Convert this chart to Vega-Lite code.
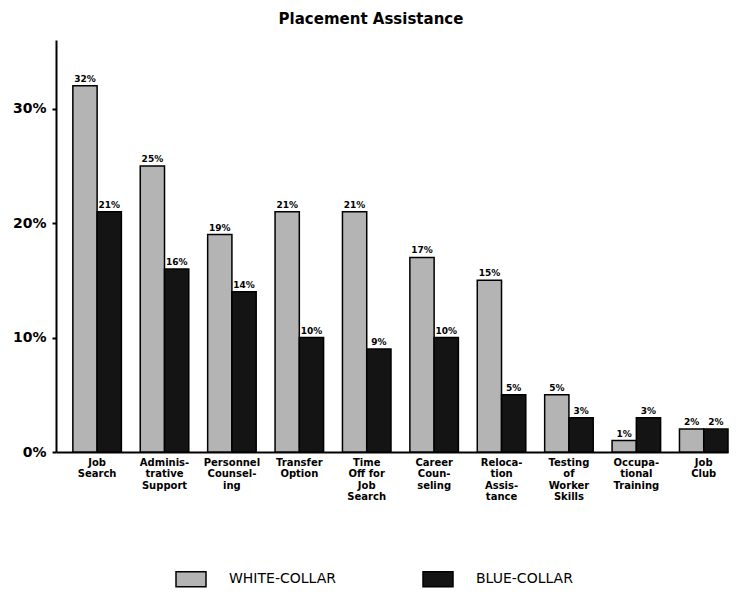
{
  "$schema": "https://vega.github.io/schema/vega-lite/v6.json",
  "width": 672,
  "height": 412,
  "autosize": "none",
  "padding": {"left": 56, "top": 40, "right": 18, "bottom": 148},
  "background": "white",
  "title": {"text": "Placement Assistance", "fontSize": 15, "font": "DejaVu Sans", "fontWeight": "bold", "anchor": "middle", "dx": -21, "offset": 13, "color": "black"},
  "config": {"view": {"stroke": null}},
  "data": {
    "values": [
      {"category": "Job|Search", "collar": "WHITE-COLLAR", "value": 0.32},
      {"category": "Job|Search", "collar": "BLUE-COLLAR", "value": 0.21},
      {"category": "Adminis-|trative|Support", "collar": "WHITE-COLLAR", "value": 0.25},
      {"category": "Adminis-|trative|Support", "collar": "BLUE-COLLAR", "value": 0.16},
      {"category": "Personnel|Counsel-|ing", "collar": "WHITE-COLLAR", "value": 0.19},
      {"category": "Personnel|Counsel-|ing", "collar": "BLUE-COLLAR", "value": 0.14},
      {"category": "Transfer|Option", "collar": "WHITE-COLLAR", "value": 0.21},
      {"category": "Transfer|Option", "collar": "BLUE-COLLAR", "value": 0.10},
      {"category": "Time|Off for|Job|Search", "collar": "WHITE-COLLAR", "value": 0.21},
      {"category": "Time|Off for|Job|Search", "collar": "BLUE-COLLAR", "value": 0.09},
      {"category": "Career|Coun-|seling", "collar": "WHITE-COLLAR", "value": 0.17},
      {"category": "Career|Coun-|seling", "collar": "BLUE-COLLAR", "value": 0.10},
      {"category": "Reloca-|tion|Assis-|tance", "collar": "WHITE-COLLAR", "value": 0.15},
      {"category": "Reloca-|tion|Assis-|tance", "collar": "BLUE-COLLAR", "value": 0.05},
      {"category": "Testing|of|Worker|Skills", "collar": "WHITE-COLLAR", "value": 0.05},
      {"category": "Testing|of|Worker|Skills", "collar": "BLUE-COLLAR", "value": 0.03},
      {"category": "Occupa-|tional|Training", "collar": "WHITE-COLLAR", "value": 0.01},
      {"category": "Occupa-|tional|Training", "collar": "BLUE-COLLAR", "value": 0.03},
      {"category": "Job|Club", "collar": "WHITE-COLLAR", "value": 0.02},
      {"category": "Job|Club", "collar": "BLUE-COLLAR", "value": 0.02}
    ]
  },
  "encoding": {
    "x": {
      "field": "category", "type": "nominal", "sort": null,
      "scale": {"paddingInner": 0.28, "paddingOuter": 0.125, "align": 1},
      "axis": {
        "title": null, "labelAngle": 0, "ticks": false,
        "labelExpr": "split(datum.value, '|')",
        "labelFont": "DejaVu Sans", "labelFontSize": 10, "labelFontWeight": "bold",
        "labelColor": "black", "labelLineHeight": 11.5, "labelPadding": 5,
        "domainColor": "black", "domainWidth": 2, "labelBaseline": "top"
      }
    },
    "xOffset": {"field": "collar", "type": "nominal", "sort": ["WHITE-COLLAR", "BLUE-COLLAR"], "scale": {"paddingInner": 0, "paddingOuter": 0}},
    "y": {
      "field": "value", "type": "quantitative",
      "scale": {"domain": [0, 0.36], "nice": false},
      "axis": {
        "title": null, "values": [0, 0.1, 0.2, 0.3], "format": ".0%", "grid": false,
        "labelFont": "DejaVu Sans", "labelFontSize": 14, "labelFontWeight": "bold",
        "labelColor": "black", "domainColor": "black", "domainWidth": 2,
        "tickColor": "black", "tickSize": 4, "tickWidth": 2, "labelPadding": 6
      }
    }
  },
  "layer": [
    {
      "mark": {"type": "bar", "stroke": "black", "strokeWidth": 1.5},
      "encoding": {
        "fill": {
          "field": "collar", "type": "nominal",
          "scale": {"domain": ["WHITE-COLLAR", "BLUE-COLLAR"], "range": ["#b4b4b4", "#141414"]},
          "legend": {
            "title": null, "orient": "none", "direction": "horizontal",
            "legendX": 119, "legendY": 523,
            "symbolType": "M-1,-0.5H1V0.5H-1Z", "symbolSize": 900,
            "symbolStrokeColor": "black", "symbolStrokeWidth": 1.5,
            "labelFont": "DejaVu Sans", "labelFontSize": 14, "labelColor": "black",
            "labelOffset": 22, "columnPadding": 84
          }
        }
      }
    },
    {
      "mark": {"type": "text", "baseline": "bottom", "dy": -2, "font": "DejaVu Sans", "fontSize": 9, "fontWeight": "bold", "color": "black"},
      "encoding": {
        "text": {"field": "value", "type": "quantitative", "format": ".0%"}
      }
    }
  ]
}
